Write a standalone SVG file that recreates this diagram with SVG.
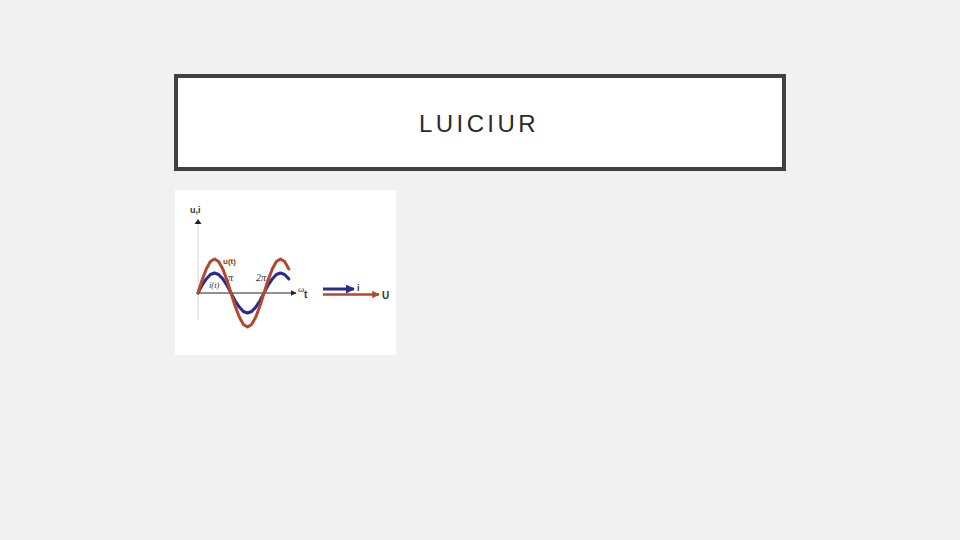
<svg xmlns="http://www.w3.org/2000/svg" width="960" height="540" viewBox="0 0 960 540">
<style>
.lbl{font-family:"Liberation Sans",Arial,sans-serif;font-weight:bold;fill:#333}
.gr{font-family:"Liberation Serif","Times New Roman",serif;font-style:italic;fill:#333}
</style>
<defs>
<marker id="ab" viewBox="0 0 10 10" refX="9" refY="5" markerWidth="3" markerHeight="3" orient="auto" markerUnits="strokeWidth"><path d="M0,0 L10,5 L0,10 z" fill="#2b2b8f"/></marker>
<marker id="ar" viewBox="0 0 10 10" refX="9" refY="5" markerWidth="3" markerHeight="3" orient="auto" markerUnits="strokeWidth"><path d="M0,0 L10,5 L0,10 z" fill="#b4472e"/></marker>
<marker id="ak" viewBox="0 0 10 10" refX="9" refY="5" markerWidth="6" markerHeight="6" orient="auto" markerUnits="strokeWidth"><path d="M0,0 L10,5 L0,10 z" fill="#222"/></marker>
</defs>
<rect width="960" height="540" fill="#f1f1f1"/>
<g id="title">
<rect x="176" y="76" width="608" height="93" fill="#ffffff" stroke="#404040" stroke-width="4"/>
<text x="479" y="132" text-anchor="middle" font-family="Liberation Sans, Arial, sans-serif" font-size="24" letter-spacing="3.4" fill="#2a2a2a">LUICIUR</text>
</g>
<g id="figure">
<rect x="175" y="190" width="221" height="165" fill="#ffffff"/>
<line x1="198" y1="223" x2="198" y2="320" stroke="#d8d8d8" stroke-width="1"/>
<path d="M194.5,224 L198,219 L201.5,224 z" fill="#222"/>
<text x="190" y="213" class="lbl" font-size="9">u,i</text>
<line x1="198" y1="293" x2="296" y2="293" stroke="#222" stroke-width="1" marker-end="url(#ak)"/>
<polyline fill="none" stroke="#2b2b8f" stroke-width="3" stroke-linejoin="round" stroke-linecap="round" points="198,293 202.1,285.3 206.3,278.9 210.4,274.5 214.5,273 218.6,274.5 222.8,278.9 226.9,285.3 231,293 235.1,300.7 239.3,307.1 243.4,311.5 247.5,313 251.6,311.5 255.8,307.1 259.9,300.7 264,293 268.1,285.3 272.3,278.9 276.4,274.5 280.5,273 284.6,274.5 288.8,278.9"/>
<polyline fill="none" stroke="#b4472e" stroke-width="3" stroke-linejoin="round" stroke-linecap="round" points="198,293 202.1,280 206.3,269 210.4,261.6 214.5,259 218.6,261.6 222.8,269 226.9,280 231,293 235.1,306 239.3,317 243.4,324.4 247.5,327 251.6,324.4 255.8,317 259.9,306 264,293 268.1,280 272.3,269 276.4,261.6 280.5,259 284.6,261.6 288.8,269"/>
<text x="223" y="264" class="lbl" font-size="8" style="fill:#8b3a1a">u(t)</text>
<text x="228" y="281" class="gr" font-size="10">π</text>
<text x="256" y="281" class="gr" font-size="10">2π</text>
<text x="209" y="288" class="gr" font-size="8.5">i(t)</text>
<text x="298" y="292" class="gr" font-size="9">ω</text>
<text x="304" y="298" class="lbl" font-size="10">t</text>
<line x1="323" y1="289" x2="354" y2="289" stroke="#2b2b8f" stroke-width="3" marker-end="url(#ab)"/>
<text x="357" y="291" class="lbl" font-size="9">i</text>
<line x1="323" y1="294.5" x2="379" y2="294.5" stroke="#b4472e" stroke-width="2.5" marker-end="url(#ar)"/>
<text x="382" y="299" class="lbl" font-size="10">U</text>
</g>
</svg>
